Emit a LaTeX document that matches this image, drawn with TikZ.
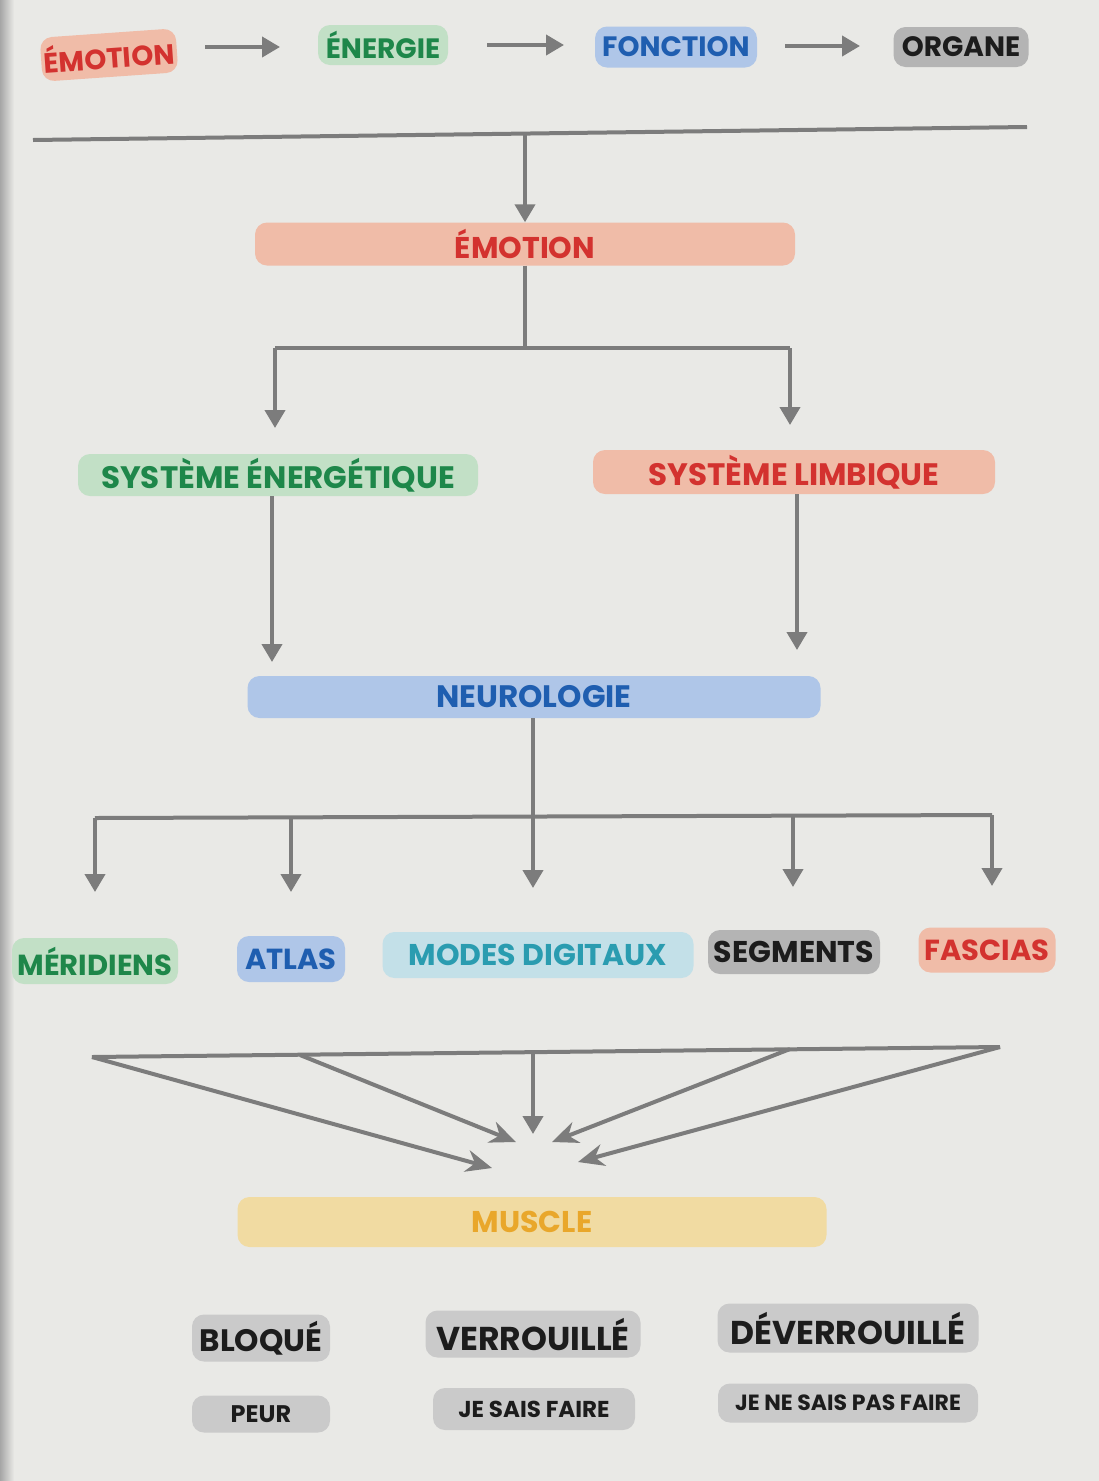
\documentclass[tikz,border=0pt]{standalone}
\usepackage{fontspec}
\newfontfamily\pop{Poppins}
\usetikzlibrary{arrows.meta}
\definecolor{bgcol}{HTML}{E9E9E6}
\definecolor{salfill}{HTML}{F0BCA8}
\definecolor{redtxt}{HTML}{D3322F}
\definecolor{grnfill}{HTML}{C2E0C6}
\definecolor{grntxt}{HTML}{1E874A}
\definecolor{blufill}{HTML}{AFC6E8}
\definecolor{blutxt}{HTML}{1F5EB0}
\definecolor{cyfill}{HTML}{C3E0E8}
\definecolor{cytxt}{HTML}{2A9CB0}
\definecolor{gryfill}{HTML}{B4B4B4}
\definecolor{ltgryfill}{HTML}{CACACA}
\definecolor{darktxt}{HTML}{1C1C1C}
\definecolor{yelfill}{HTML}{F1DBA2}
\definecolor{yeltxt}{HTML}{E9A72B}
\definecolor{arrcol}{HTML}{7C7C7C}
\newcommand{\fs}[1]{\pop\bfseries\fontsize{#1}{#1}\selectfont}
\begin{document}
\begin{tikzpicture}[x=1pt,y=-1pt,
  tag/.style={rounded corners=12pt, inner sep=0pt, font=\fs{28}},
  sal/.style={tag, fill=salfill, text=redtxt},
  grn/.style={tag, fill=grnfill, text=grntxt},
  blu/.style={tag, fill=blufill, text=blutxt},
  cya/.style={tag, fill=cyfill, text=cytxt},
  gry/.style={tag, fill=gryfill, text=darktxt},
  lgry/.style={tag, fill=ltgryfill, text=darktxt},
  yel/.style={tag, fill=yelfill, text=yeltxt},
  conn/.style={draw=arrcol, line width=4pt},
  arr/.style={conn, -{Triangle[length=18pt,width=20pt]}},
  sarr/.style={conn, -{Stealth[length=26pt,width=22pt]}}
]
\fill[bgcol] (0,0) rectangle (1099,1481);
\shade[left color=black!35, right color=bgcol] (0,0) rectangle (14,1481);

% top row
\node[sal, minimum width=136pt, minimum height=44pt, rotate=4] (e1) at (109,55) {ÉMOTION};
\node[grn, minimum width=130pt, minimum height=40pt] (e2) at (383,45) {ÉNERGIE};
\node[blu, minimum width=162pt, minimum height=41pt] (e3) at (676,47) {FONCTION};
\node[gry, minimum width=135pt, minimum height=40pt] (e4) at (961,47) {ORGANE};
\coordinate (a1s) at (205,47); \coordinate (a1e) at (280,47);
\coordinate (a2s) at (487,45); \coordinate (a2e) at (564,45);
\coordinate (a3s) at (785,46); \coordinate (a3e) at (860,46);
\draw[arr] (a1s) -- (a1e);
\draw[arr] (a2s) -- (a2e);
\draw[arr] (a3s) -- (a3e);

% main line
\coordinate (hl) at (33,140); \coordinate (hr) at (1027,127);
\draw[conn] (hl) -- (hr);
\coordinate (hm) at (525,133);

% EMOTION
\node[sal, minimum width=540pt, minimum height=43pt, font=\fs{30}] (emo) at (525,244) {ÉMOTION};
\draw[arr] (hm) -- (emo.north);

\coordinate (s1) at (525,348);
\coordinate (s1l) at (275,348); \coordinate (s1r) at (790,348);
\node[grn, minimum width=400pt, minimum height=42pt, font=\fs{31}] (sen) at (278,475) {SYSTÈME ÉNERGÉTIQUE};
\node[sal, minimum width=402pt, minimum height=44pt, font=\fs{31}] (sli) at (794,472) {SYSTÈME LIMBIQUE};
\draw[conn] (emo.south) -- (s1);
\draw[conn] (s1l) -- (s1r);
\draw[arr] (s1l) -- (275,428);
\draw[arr] (s1r) -- (790,425);

% NEUROLOGIE
\node[blu, minimum width=573pt, minimum height=42pt, font=\fs{31}] (neu) at (534,697) {NEUROLOGIE};
\draw[arr] (sen.south -| 272,0) -- (272,662);
\draw[arr] (sli.south -| 797,0) -- (797,650);

% bottom row
\node[grn, minimum width=166pt, minimum height=46pt, font=\fs{29}] (mer) at (95,961) {MÉRIDIENS};
\node[blu, minimum width=108pt, minimum height=46pt, font=\fs{29}] (atl) at (291,959) {ATLAS};
\node[cya, minimum width=311pt, minimum height=46pt, font=\fs{30}] (mod) at (538,955) {MODES DIGITAUX};
\node[gry, minimum width=172pt, minimum height=44pt, font=\fs{30}] (seg) at (794,952) {SEGMENTS};
\node[sal, minimum width=137pt, minimum height=45pt, font=\fs{29}] (fas) at (987,950) {FASCIAS};

\coordinate (n1) at (533,816);
\coordinate (n1l) at (95,818); \coordinate (n1r) at (992,815);
\draw[conn] (neu.south -| n1) -- (n1);
\draw[conn] (n1l) -- (n1r);
\draw[arr] (n1l) -- (95,892);
\draw[arr] (291,817) -- (291,892);
\draw[arr] (n1) -- (533,888);
\draw[arr] (793,815) -- (793,887);
\draw[arr] (n1r) -- (992,886);

% converging
\coordinate (cl) at (92,1057); \coordinate (cr) at (1000,1047);
\coordinate (c2) at (300,1055); \coordinate (c3) at (533,1052); \coordinate (c4) at (790,1049);
\draw[conn] (cl) -- (cr);
\coordinate (t1) at (492,1168); \coordinate (t2) at (516,1142);
\coordinate (t3) at (533,1134); \coordinate (t4) at (552,1142);
\coordinate (t5) at (578,1162);
\draw[sarr] (cl) -- (t1);
\draw[sarr] (c2) -- (t2);
\draw[arr] (c3) -- (t3);
\draw[sarr] (c4) -- (t4);
\draw[sarr] (cr) -- (t5);

\node[yel, minimum width=589pt, minimum height=50pt, font=\fs{30}] (mus) at (532,1222) {MUSCLE};

% bottom states
\node[lgry, minimum width=138pt, minimum height=47pt, font=\fs{31}] (blo) at (261,1338) {BLOQUÉ};
\node[lgry, minimum width=215pt, minimum height=47pt, font=\fs{33}] (ver) at (533,1334) {VERROUILLÉ};
\node[lgry, minimum width=261pt, minimum height=49pt, font=\fs{33}] (dev) at (848,1328) {DÉVERROUILLÉ};
\node[lgry, minimum width=138pt, minimum height=37pt, font=\fs{24}] (peu) at (261,1414) {PEUR};
\node[lgry, minimum width=202pt, minimum height=42pt, font=\fs{23}] (jsf) at (534,1409) {JE SAIS FAIRE};
\node[lgry, minimum width=260pt, minimum height=39pt, font=\fs{22}] (jns) at (848,1403) {JE NE SAIS PAS FAIRE};
\end{tikzpicture}
\end{document}
